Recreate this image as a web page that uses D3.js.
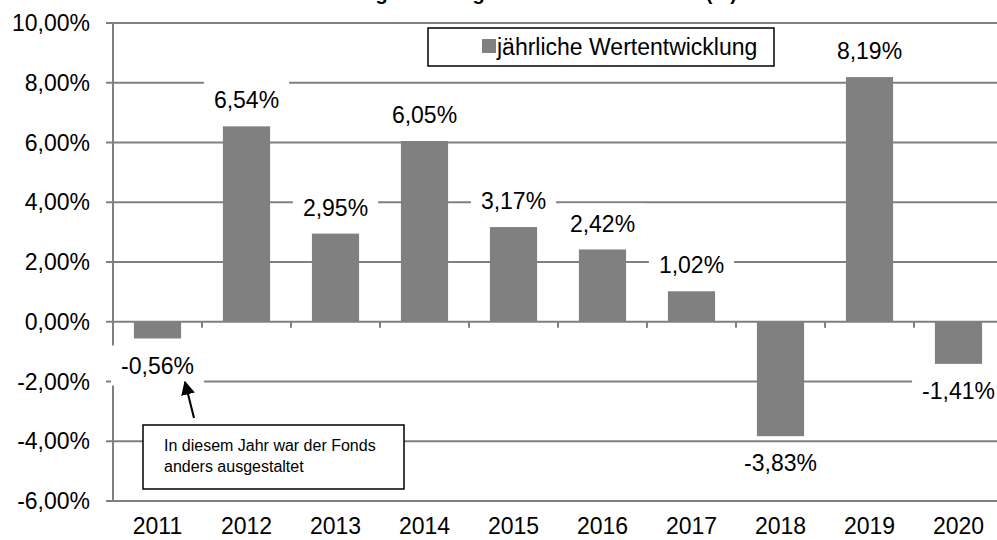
<!DOCTYPE html>
<html>
<head>
<meta charset="utf-8">
<script src="https://cdn.jsdelivr.net/npm/d3@7"></script>
<style>
  body { margin: 0; background: #fff; overflow: hidden; }
  text { font-family: "Liberation Sans", Arial, sans-serif; }
</style>
</head>
<body>
<div id="chart"></div>
<script>
const years = ["2011", "2012", "2013", "2014", "2015", "2016", "2017", "2018", "2019", "2020"];
const returns = [-0.56, 6.54, 2.95, 6.05, 3.17, 2.42, 1.02, -3.83, 8.19, -1.41];
const yTicks = [-6, -4, -2, 0, 2, 4, 6, 8, 10];
const titleText = "Wertentwicklung der Anlage in den letzten Jahren (%)";
const legendLabel = "jährliche Wertentwicklung";
const noteLines = ["In diesem Jahr war der Fonds", "anders ausgestaltet"];

const width = 997, height = 540;
const grey = "#808080";
const fs = "23px";
const de = d3.formatLocale({ decimal: ",", thousands: ".", grouping: [3], currency: ["", " €"], minus: "-" });
const pct = v => de.format(".2f")(v) + "%";

const svg = d3.select("#chart").append("svg")
    .attr("width", width)
    .attr("height", height);

const x = d3.scaleBand()
    .domain(years)
    .range([113, 1003])
    .paddingInner(0.47)
    .paddingOuter(0.235);

const y = d3.scaleLinear()
    .domain([-6, 10])
    .range([501, 23]);

// title, cut off at the top like in the original
svg.append("text")
    .attr("x", 228)
    .attr("y", 0)
    .style("font-size", "20px")
    .style("font-weight", "bold")
    .text(titleText);

// gridlines
svg.append("g")
  .selectAll("line")
  .data(yTicks)
  .join("line")
    .attr("x1", 106)
    .attr("x2", 1003)
    .attr("y1", d => y(d))
    .attr("y2", d => y(d))
    .attr("stroke", grey)
    .attr("stroke-width", 2);

// y axis line
svg.append("line")
    .attr("x1", 113).attr("x2", 113)
    .attr("y1", y(10)).attr("y2", y(-6))
    .attr("stroke", grey)
    .attr("stroke-width", 2);

// y labels
svg.append("g")
  .selectAll("text")
  .data(yTicks)
  .join("text")
    .attr("x", 90)
    .attr("y", d => y(d))
    .attr("dy", "0.35em")
    .attr("text-anchor", "end")
    .style("font-size", fs)
    .text(d => pct(d));

// x axis ticks at the zero line
svg.append("g")
  .selectAll("line")
  .data(years.slice(1))
  .join("line")
    .attr("x1", d => x(d) - x.step() * x.paddingInner() / 2)
    .attr("x2", d => x(d) - x.step() * x.paddingInner() / 2)
    .attr("y1", y(0))
    .attr("y2", y(0) + 6)
    .attr("stroke", grey)
    .attr("stroke-width", 2);

// bars
svg.append("g")
  .selectAll("rect")
  .data(returns)
  .join("rect")
    .attr("x", (d, i) => x(years[i]))
    .attr("width", x.bandwidth())
    .attr("y", d => y(Math.max(0, d)))
    .attr("height", d => Math.abs(y(d) - y(0)))
    .attr("fill", grey);

// data labels with white boxes
const labels = svg.append("g")
  .selectAll("g")
  .data(returns)
  .join("g")
    .attr("transform", (d, i) => {
      const cx = x(years[i]) + x.bandwidth() / 2;
      const cy = d >= 0 ? y(d) - 26 : y(d) + 27;
      return `translate(${cx},${cy})`;
    });

labels.append("text")
    .attr("text-anchor", "middle")
    .attr("dy", "0.35em")
    .style("font-size", fs)
    .text(d => pct(d));

labels.each(function() {
  const g = d3.select(this);
  const b = g.select("text").node().getBBox();
  g.insert("rect", "text")
    .attr("x", b.x - 10)
    .attr("y", -20)
    .attr("width", b.width + 20)
    .attr("height", 40)
    .attr("fill", "#fff");
});

// x labels
svg.append("g")
  .selectAll("text")
  .data(years)
  .join("text")
    .attr("x", d => x(d) + x.bandwidth() / 2)
    .attr("y", 534)
    .attr("text-anchor", "middle")
    .style("font-size", fs)
    .text(d => d);

// legend
svg.append("rect")
    .attr("x", 428).attr("y", 28)
    .attr("width", 346).attr("height", 38)
    .attr("fill", "#fff")
    .attr("stroke", "#000")
    .attr("stroke-width", 1.5);
svg.append("rect")
    .attr("x", 482).attr("y", 39)
    .attr("width", 14).attr("height", 14)
    .attr("fill", grey);
svg.append("text")
    .attr("x", 497).attr("y", 55)
    .style("font-size", fs)
    .text(legendLabel);

// annotation arrow and box
svg.append("defs").append("marker")
    .attr("id", "head")
    .attr("viewBox", "0 0 10 10")
    .attr("refX", 9).attr("refY", 5)
    .attr("markerWidth", 7).attr("markerHeight", 7)
    .attr("orient", "auto")
  .append("path")
    .attr("d", "M0,0L10,5L0,10Z")
    .attr("fill", "#000");

svg.append("line")
    .attr("x1", 194).attr("y1", 418)
    .attr("x2", 185).attr("y2", 382)
    .attr("stroke", "#000")
    .attr("stroke-width", 2)
    .attr("marker-end", "url(#head)");

svg.append("rect")
    .attr("x", 143).attr("y", 425)
    .attr("width", 261).attr("height", 64)
    .attr("fill", "#fff")
    .attr("stroke", "#000")
    .attr("stroke-width", 1.5);

svg.append("g")
  .selectAll("text")
  .data(noteLines)
  .join("text")
    .attr("x", 164)
    .attr("y", (d, i) => 451 + i * 21)
    .style("font-size", "16px")
    .text(d => d);
</script>
</body>
</html>
